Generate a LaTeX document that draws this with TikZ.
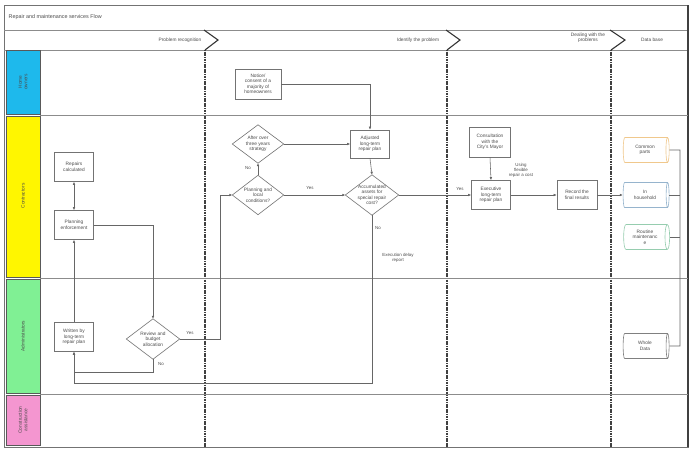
\documentclass[tikz,border=0pt]{standalone}
\usepackage{fontspec}
\setmainfont{Liberation Sans}
\usetikzlibrary{shapes.geometric,arrows.meta}
\begin{document}
\begin{tikzpicture}[x=1pt,y=-1pt,
  every node/.style={font=\fontsize{4.8}{5.5}\selectfont, text=black!70, align=center, inner sep=0.5pt},
  box/.style={draw=black!55, fill=white, line width=0.6pt, minimum width=39pt, minimum height=29pt},
  dnode/.style={minimum width=53pt, minimum height=40pt, inner sep=0pt},
  dline/.style={draw=black!55, line width=0.6pt},
  cyl/.style={cylinder, shape border rotate=0, aspect=0.3, draw, fill=white, line width=0.6pt, minimum width=25pt, minimum height=46pt},
  conn/.style={draw=black!60, line width=0.55pt},
  arr/.style={conn, -{Latex[length=3pt,width=2.6pt]}},
  lbl/.style={font=\fontsize{4.4}{5}\selectfont},
  divider/.style={draw=black!75, line width=1.1pt, dash pattern=on 1.2pt off 0.5pt},
  sep/.style={draw=black!45, line width=0.6pt},
  lane/.style={draw=black!65, line width=0.7pt}
]
\useasboundingbox (0,0) rectangle (697,450);
\fill[white] (0,0) rectangle (697,450);

% frame
\draw[draw=black!55, line width=0.8pt] (4,5) rectangle (688,447);
\draw[sep] (4,30) -- (688,30);
\draw[sep] (4,50) -- (688,50);
\draw[draw=black!75, line width=1.3pt] (688,5) -- (688,447);
\node[anchor=west, font=\fontsize{5.4}{6}\selectfont] (title) at (8,17) {Repair and maintenance services Flow};

% phases
\draw[draw=black!80, line width=1.1pt] (204,30) -- (218,40) -- (205,50);
\draw[draw=black!80, line width=1.1pt] (446,30) -- (460,40) -- (447,50);
\draw[draw=black!80, line width=1.1pt] (610,30) -- (625,40) -- (611,50);
\node (ph1) at (180,40) {Problem recognition};
\node (ph2) at (418,40) {Identify the problem};
\node (ph3) at (588,38) {Dealing with the\\problems};
\node (ph4) at (652,40) {Data base};

% dividers
\draw[divider] (205,50) -- (205,447);
\draw[divider] (447,50) -- (447,447);
\draw[divider] (611,50) -- (611,447);

% lanes
\draw[sep] (40,115) -- (688,115);
\draw[sep] (40,278) -- (688,278);
\draw[sep] (40,394) -- (688,394);
\filldraw[lane, fill={rgb,255:red,30;green,185;blue,236}] (6,50) rectangle (40,114);
\filldraw[lane, fill={rgb,255:red,255;green,246;blue,0}] (6,116) rectangle (40,277);
\filldraw[lane, fill={rgb,255:red,128;green,240;blue,148}] (6,279) rectangle (40,393);
\filldraw[lane, fill={rgb,255:red,244;green,150;blue,208}] (6,395) rectangle (40,445);
\node[rotate=90] (l1) at (23,82) {Home\\owners};
\node[rotate=90] (l2) at (23,196) {Contractors};
\node[rotate=90] (l3) at (23,336) {Administrators};
\node[rotate=90] (l4) at (23,420) {Construction\\assistance};

% nodes
\node[box] (rep) at (74,167) {Repairs\\calculated};
\node[box] (plan) at (74,225) {Planning\\enforcement};
\node[box] (writ) at (74,337) {Written by\\long-term\\repair plan};
\node[dnode] (rev) at (153,339) {Review and\\budget\\allocation};
\node[box, minimum width=46pt, minimum height=30pt] (notice) at (258,84) {Notice/\\consent of a\\majority of\\homeowners};
\node[dnode, minimum width=51pt, minimum height=38pt] (after) at (258,144) {After over\\three years\\strategy};
\node[dnode, minimum width=51pt, minimum height=39pt] (plc) at (258,195) {Planning and\\local\\conditions?};
\node[box, minimum height=28pt] (adj) at (370,144) {Adjusted\\long-term\\repair plan};
\node[dnode] (acc) at (372,195) {Accumulated\\assets for\\special repair\\cost?};
\node[box, minimum width=41pt, minimum height=30pt] (cons) at (490,142) {Consultation\\with the\\City's Mayor};
\node[box] (exe) at (491,195) {Executive\\long-term\\repair plan};
\node[box, minimum width=40pt] (rec) at (577,195) {Record the\\final results};
\node[cyl, draw={rgb,255:red,240;green,200;blue,140}] (com) at (645,150) {Common\\parts};
\node[cyl, draw={rgb,255:red,150;green,180;blue,205}] (inh) at (645,195) {In\\household};
\node[cyl, draw={rgb,255:red,150;green,205;blue,175}] (rout) at (645,237) {Routine\\maintenanc\\e};
\node[cyl, draw=black!50] (whole) at (645,346) {Whole\\Data};

\foreach \d in {rev,after,plc,acc}{
  \draw[dline] (\d.north) -- (\d.east) -- (\d.south) -- (\d.west) -- cycle;
}

% connectors
\coordinate (k1) at (220,339);
\coordinate (k2) at (372,383);
\coordinate (bt) at (680,150);
\coordinate (bb) at (680,346);
\draw[conn, {Latex[length=3pt,width=2.6pt]}-{Latex[length=3pt,width=2.6pt]}] (rep.south) -- (plan.north);
\draw[arr] (plan.east) -| (rev.north);
\draw[arr] (rev.east) -- (k1) |- (plc.west);
\draw[arr] (rev.south) -- ++(0,13) -| (writ.south);
\draw[arr] (writ.north) -- (plan.south);
\draw[arr] (plc.north) -- (after.south);
\draw[arr] (after.east) -- (adj.west);
\draw[arr] (notice.east) -| (adj.north);
\draw[arr] (adj.south) -- (acc.north);
\draw[arr] (plc.east) -- (acc.west);
\draw[arr] (acc.east) -- (exe.west);
\draw[arr] (acc.south) -- (k2) -| (writ.south);
\draw[arr] (cons.south) -- (exe.north);
\draw[arr] (exe.east) -- (rec.west);
\draw[arr] (rec.east) -- (inh.west);
\draw[conn] (com.east) -- (bt) -- (bb) -- (whole.east);
\draw[conn] (inh.east) -- (inh.east -| bt);
\draw[conn] (rout.east) -- (rout.east -| bt);

% labels
\node[lbl] (t1) at (190,333) {Yes};
\node[lbl] (t2) at (161,364) {No};
\node[lbl] (t3) at (248,168) {No};
\node[lbl] (t4) at (310,188) {Yes};
\node[lbl] (t5) at (460,189) {Yes};
\node[lbl] (t6) at (378,228) {No};
\node[lbl] (t7) at (398,258) {Execution delay\\report};
\node[lbl] (t8) at (521,170) {Using\\flexible\\repair a cost};
\end{tikzpicture}
\end{document}
